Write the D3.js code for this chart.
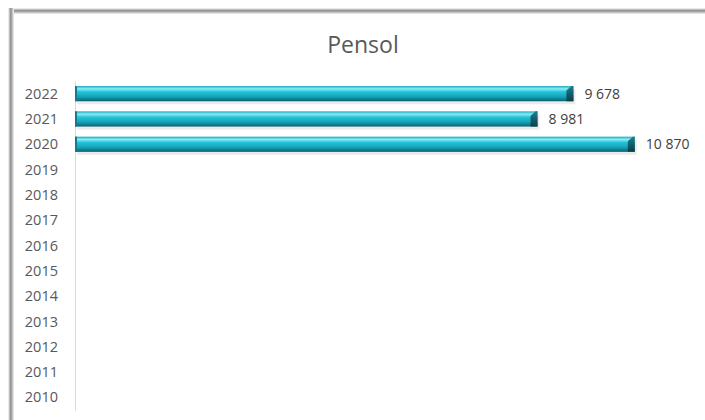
<!DOCTYPE html>
<meta charset="utf-8">
<style>
body { margin: 0; background: #fff; }
svg { display: block; }
.tick text { font-family: "Open Sans", sans-serif; font-size: 14.5px; fill: #595959; }
.lbl { font-family: "Open Sans", sans-serif; font-size: 14px; fill: #404040; }
.title { font-family: "Open Sans", sans-serif; font-size: 23px; fill: #595959; }
</style>
<div id="chart"></div>
<script src="https://cdn.jsdelivr.net/npm/d3@7/dist/d3.min.js"></script>
<script>
// data
var years = ["2022","2021","2020","2019","2018","2017","2016","2015","2014","2013","2012","2011","2010"]
var values = [9678, 8981, 10870, null, null, null, null, null, null, null, null, null, null]
var title = "Pensol"

var width = 705, height = 420

var svg = d3.select("#chart").append("svg")
    .attr("width", width)
    .attr("height", height)

var defs = svg.append("defs")

// frame shadow (top + left)
var gTop = defs.append("linearGradient").attr("id", "shTop").attr("x1", 0).attr("y1", 0).attr("x2", 0).attr("y2", 1)
gTop.append("stop").attr("offset", "0%").attr("stop-color", "#fff")
gTop.append("stop").attr("offset", "45%").attr("stop-color", "#8c8c8c")
gTop.append("stop").attr("offset", "100%").attr("stop-color", "#f4f4f4")
var gLeft = defs.append("linearGradient").attr("id", "shLeft").attr("x1", 0).attr("y1", 0).attr("x2", 1).attr("y2", 0)
gLeft.append("stop").attr("offset", "0%").attr("stop-color", "#fff")
gLeft.append("stop").attr("offset", "45%").attr("stop-color", "#8c8c8c")
gLeft.append("stop").attr("offset", "100%").attr("stop-color", "#f4f4f4")

// bar bevel
var gBar = defs.append("linearGradient").attr("id", "bar").attr("x1", 0).attr("y1", 0).attr("x2", 0).attr("y2", 1)
gBar.append("stop").attr("offset", "0%").attr("stop-color", "#16a8bd")
gBar.append("stop").attr("offset", "18%").attr("stop-color", "#8cecf6")
gBar.append("stop").attr("offset", "38%").attr("stop-color", "#25c3da")
gBar.append("stop").attr("offset", "70%").attr("stop-color", "#14a3b8")
gBar.append("stop").attr("offset", "100%").attr("stop-color", "#0a6170")
var gCap = defs.append("linearGradient").attr("id", "cap").attr("x1", 0).attr("y1", 0).attr("x2", 0).attr("y2", 1)
gCap.append("stop").attr("offset", "0%").attr("stop-color", "#1d7f8f")
gCap.append("stop").attr("offset", "100%").attr("stop-color", "#0a3d47")

svg.append("rect").attr("x", 8).attr("y", 8).attr("width", width - 8).attr("height", 6).attr("fill", "url(#shTop)")
svg.append("rect").attr("x", 8).attr("y", 8).attr("width", 6).attr("height", height - 8).attr("fill", "url(#shLeft)")

svg.append("text").attr("class", "title")
    .attr("x", 363).attr("y", 53)
    .attr("text-anchor", "middle")
    .text(title)

var x = d3.scaleLinear().domain([0, 12000]).range([75, 693])
var y = d3.scaleBand().domain(years).range([81, 410]).paddingInner(0.4).paddingOuter(0.2)

var axis = svg.append("g")
    .attr("transform", "translate(" + x(0) + ",0)")
    .call(d3.axisLeft(y).tickSize(0).tickPadding(17))
axis.select(".domain").attr("stroke", "#d9d9d9")
axis.selectAll(".tick text").attr("dy", "0.35em")

var data = years.map(function(d, i) { return {year: d, value: values[i]} }).filter(function(d) { return d.value != null })

var bars = svg.append("g").selectAll("g").data(data).enter().append("g")

// soft shadow under bars
bars.append("rect")
    .attr("x", x(0) + 2)
    .attr("y", function(d) { return y(d.year) + 3 })
    .attr("width", function(d) { return x(d.value) - x(0) })
    .attr("height", y.bandwidth())
    .attr("fill", "#000").attr("opacity", 0.08)

bars.append("rect")
    .attr("x", x(0))
    .attr("y", function(d) { return y(d.year) })
    .attr("width", function(d) { return x(d.value) - x(0) })
    .attr("height", y.bandwidth())
    .attr("fill", "url(#bar)")

// left edge
bars.append("rect")
    .attr("x", x(0))
    .attr("y", function(d) { return y(d.year) })
    .attr("width", 2)
    .attr("height", y.bandwidth())
    .attr("fill", "#137c8c")

// right bevel cap
bars.append("path")
    .attr("d", function(d) {
      var x1 = x(d.value), y0 = y(d.year), h = y.bandwidth()
      return "M" + (x1 - 7) + "," + (y0 + h * 0.3) + "L" + (x1 - 2) + "," + y0 + "L" + x1 + "," + y0 +
        "L" + x1 + "," + (y0 + h) + "L" + (x1 - 7) + "," + (y0 + h) + "Z"
    })
    .attr("fill", "url(#cap)")

bars.append("text").attr("class", "lbl")
    .attr("x", function(d) { return x(d.value) + 11 })
    .attr("y", function(d) { return y(d.year) + y.bandwidth() / 2 })
    .attr("dy", "0.35em")
    .text(function(d) { return d3.format(",")(d.value).replace(",", " ") })
</script>
